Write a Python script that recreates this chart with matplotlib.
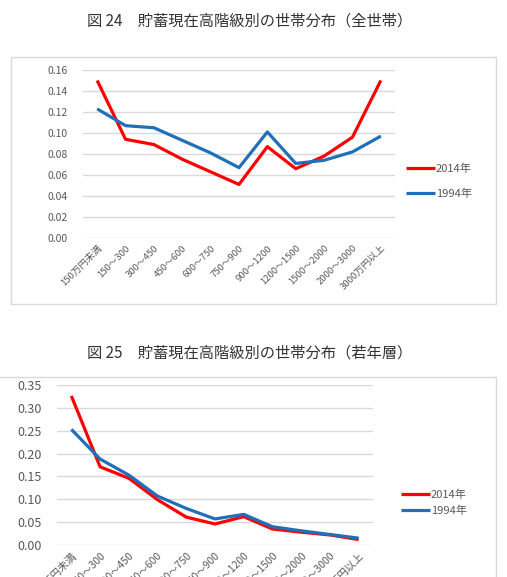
import matplotlib
matplotlib.use("Agg")
import matplotlib.pyplot as plt
from matplotlib.patches import Rectangle

plt.rcParams['font.family'] = ['Noto Sans CJK JP', 'DejaVu Sans']

categories = ["150万円未満", "150～300", "300～450", "450～600", "600～750", "750～900",
              "900～1200", "1200～1500", "1500～2000", "2000～3000", "3000万円以上"]

all_2014 = [0.150, 0.094, 0.089, 0.075, 0.063, 0.051, 0.087, 0.066, 0.078, 0.096, 0.150]
all_1994 = [0.123, 0.107, 0.105, 0.093, 0.081, 0.067, 0.101, 0.071, 0.074, 0.082, 0.097]

young_2014 = [0.326, 0.171, 0.146, 0.099, 0.061, 0.046, 0.062, 0.035, 0.028, 0.022, 0.012]
young_1994 = [0.253, 0.188, 0.153, 0.107, 0.080, 0.057, 0.067, 0.040, 0.031, 0.023, 0.015]

yticks_top = [0.00, 0.02, 0.04, 0.06, 0.08, 0.10, 0.12, 0.14, 0.16]
yticks_bottom = [0.00, 0.05, 0.10, 0.15, 0.20, 0.25, 0.30, 0.35]

series_names = ["2014年", "1994年"]
title_top = "図 24　貯蓄現在高階級別の世帯分布（全世帯）"
title_bottom = "図 25　貯蓄現在高階級別の世帯分布（若年層）"

W, H = 507, 577
fig = plt.figure(figsize=(W / 100, H / 100), dpi=100)

RED = "#FF0000"
BLUE = "#1F70B8"
GRID = "#D9D9D9"
TXT = "#595959"


def px_axes(x0, y0, x1, y1):
    return fig.add_axes([x0 / W, 1 - y1 / H, (x1 - x0) / W, (y1 - y0) / H])


def frame(x0, y0, x1, y1):
    fig.patches.append(Rectangle((x0 / W, 1 - y1 / H), (x1 - x0) / W, (y1 - y0) / H,
                                 transform=fig.transFigure, fill=False,
                                 edgecolor=GRID, linewidth=1.0))


def draw(ax, s1, s2, yticks, ysize, xsize, legend_xy, spacing):
    x = list(range(len(categories)))
    l1, = ax.plot(x, s1, color=RED, linewidth=2.3, solid_capstyle='butt', zorder=3)
    l2, = ax.plot(x, s2, color=BLUE, linewidth=2.3, solid_capstyle='butt', zorder=3)
    ax.set_xlim(-0.5, len(categories) - 0.5)
    ax.set_ylim(yticks[0], yticks[-1])
    ax.set_yticks(yticks)
    ax.set_yticklabels([f"{v:.2f}" for v in yticks])
    ax.set_xticks(x)
    ax.set_xticklabels(categories, rotation=45, ha='right', va='top',
                       rotation_mode='anchor', fontsize=xsize, color=TXT)
    ax.tick_params(axis='y', length=0, pad=11, labelsize=ysize, labelcolor=TXT)
    ax.tick_params(axis='x', length=0, pad=4)
    for s in ax.spines.values():
        s.set_visible(False)
    ax.grid(axis='y', color=GRID, linewidth=1.0)
    ax.set_axisbelow(True)
    fig.legend([l1, l2], series_names, loc='center left',
               bbox_to_anchor=(legend_xy[0] / W, 1 - legend_xy[1] / H),
               frameon=False, fontsize=8, borderaxespad=0, borderpad=0,
               handlelength=2.6, handletextpad=0.1, labelspacing=spacing,
               labelcolor=TXT)


# top chart
frame(11, 57, 496, 304)
fig.text(250 / W, 1 - 21 / H, title_top, ha='center', va='center', fontsize=11, color="#333333")
ax1 = px_axes(83, 70, 395, 238)
draw(ax1, all_2014, all_1994, yticks_top, 7.5, 6.8, (406, 181), 1.3)

# bottom chart
frame(-2, 377, 496, 600)
fig.text(250 / W, 1 - 353 / H, title_bottom, ha='center', va='center', fontsize=11, color="#333333")
ax2 = px_axes(57, 385, 373, 545)
draw(ax2, young_2014, young_1994, yticks_bottom, 9, 7.5, (401, 503), 0.5)

fig.savefig("out.png", dpi=100)
